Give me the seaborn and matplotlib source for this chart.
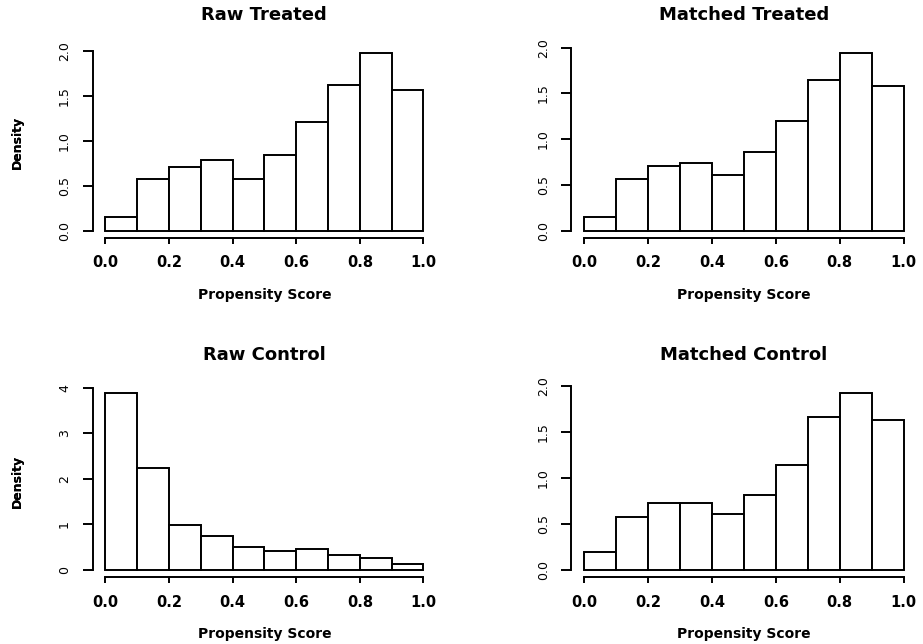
import numpy as np
import matplotlib
matplotlib.use("Agg")
import matplotlib.pyplot as plt
import seaborn as sns

# ---- data (densities per bin) ----
bin_edges = [0.0, 0.1, 0.2, 0.3, 0.4, 0.5, 0.6, 0.7, 0.8, 0.9, 1.0]
raw_treated = [0.156, 0.574, 0.708, 0.786, 0.574, 0.845, 1.214, 1.62, 1.98, 1.572]
matched_treated = [0.153, 0.561, 0.703, 0.736, 0.605, 0.86, 1.202, 1.65, 1.94, 1.585]
raw_control = [3.89, 2.24, 0.98, 0.753, 0.505, 0.424, 0.46, 0.336, 0.263, 0.13]
matched_control = [0.192, 0.572, 0.735, 0.735, 0.605, 0.815, 1.145, 1.667, 1.93, 1.634]

titles = ["Raw Treated", "Matched Treated", "Raw Control", "Matched Control"]
x_ticks = [0.0, 0.2, 0.4, 0.6, 0.8, 1.0]
x_ticklabels = ["0.0", "0.2", "0.4", "0.6", "0.8", "1.0"]
y_ticks_small = [0.0, 0.5, 1.0, 1.5, 2.0]
y_ticklabels_small = ["0.0", "0.5", "1.0", "1.5", "2.0"]
y_ticks_big = [0, 1, 2, 3, 4]
y_ticklabels_big = ["0", "1", "2", "3", "4"]
x_label = "Propensity Score"
y_label = "Density"

sns.set_style("white")
plt.rcParams["font.family"] = ["DejaVu Sans"]
plt.rcParams["text.color"] = "black"
plt.rcParams["axes.labelcolor"] = "black"
plt.rcParams["xtick.color"] = "black"
plt.rcParams["ytick.color"] = "black"

W, H = 923, 644
fig = plt.figure(figsize=(W / 100, H / 100), dpi=100)

# axes boxes in pixels: (left, top, right, bottom)
boxes = [
    (92.5, 46.0, 436.2, 238.0),
    (571.2, 46.0, 916.5, 238.0),
    (92.5, 385.5, 436.2, 577.2),
    (571.2, 385.5, 916.5, 577.2),
]
series = [raw_treated, matched_treated, raw_control, matched_control]
yticks_all = [
    (y_ticks_small, y_ticklabels_small),
    (y_ticks_small, y_ticklabels_small),
    (y_ticks_big, y_ticklabels_big),
    (y_ticks_small, y_ticklabels_small),
]

edges = np.array(bin_edges)
centers = (edges[:-1] + edges[1:]) / 2

for (l, t, r, b), vals, title, (yt, ytl) in zip(boxes, series, titles, yticks_all):
    ax = fig.add_axes([l / W, 1 - b / H, (r - l) / W, (b - t) / H])
    sns.histplot(x=centers, weights=vals, bins=bin_edges, stat="count",
                 color="white", edgecolor="black", linewidth=1.4, alpha=1.0,
                 ax=ax)
    ymax = max(vals)
    ax.set_xlim(-0.04, 1.04)
    ax.set_ylim(-0.04 * ymax, 1.04 * ymax)
    for s in ["top", "right"]:
        ax.spines[s].set_visible(False)
    for s in ["left", "bottom"]:
        ax.spines[s].set_linewidth(1.4)
        ax.spines[s].set_color("black")
    ax.spines["bottom"].set_bounds(0, 1)
    ax.spines["left"].set_bounds(yt[0], yt[-1])
    ax.set_xticks(x_ticks)
    ax.set_xticklabels(x_ticklabels, fontsize=10.5, fontweight="bold")
    ax.set_yticks(yt)
    ax.set_yticklabels(ytl, fontsize=9, rotation=90, va="center")
    ax.tick_params(axis="x", direction="out", length=4.5, width=1.4, pad=8.0,
                   bottom=True)
    ax.tick_params(axis="y", direction="out", length=7, width=1.4, pad=8.5,
                   left=True)
    hpx = b - t
    ax.set_title(title, fontsize=13, fontweight="bold", y=1 + 31 / hpx,
                 va="center", pad=0, color="black")
    ax.set_xlabel(x_label, fontsize=10, fontweight="bold")
    ax.xaxis.set_label_coords(0.5, -57 / hpx)
    ax.xaxis.label.set_va("center")
    ax.set_ylabel(y_label, fontsize=9, fontweight="bold")
    ax.yaxis.set_label_coords(-(l - 17.5) / (r - l), 0.5)
    ax.yaxis.label.set_va("center")

fig.savefig("out.png", dpi=100, facecolor="white")
